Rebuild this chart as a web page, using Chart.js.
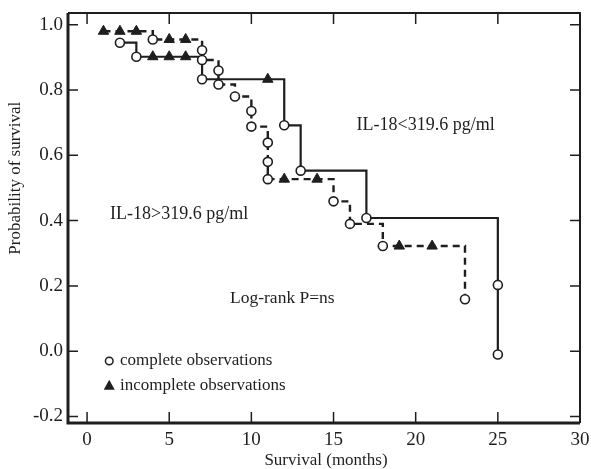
<!DOCTYPE html>
<html>
<head>
<meta charset="utf-8">
<script src="https://cdn.jsdelivr.net/npm/chart.js@4/dist/chart.umd.min.js"></script>
<style>
  html, body { margin: 0; padding: 0; background: #fff; }
  #wrap { width: 591px; height: 469px; }
</style>
</head>
<body>
<div id="wrap"><canvas id="kmChart" width="591" height="469"></canvas></div>
<script>
// Axis ticks
const xTicks = [0, 5, 10, 15, 20, 25, 30];
const yTicks = [-0.2, 0, 0.2, 0.4, 0.6, 0.8, 1.0];

// IL-18 > 319.6 pg/ml (dashed curve)
const highStepX = [1, 4, 7, 7, 8, 8, 9, 10, 10, 11, 11, 11, 15, 16, 18, 23];
const highStepY = [0.98, 0.955, 0.922, 0.892, 0.86, 0.817, 0.78, 0.736, 0.688, 0.639, 0.58, 0.527, 0.459, 0.39, 0.322, 0.159];
const highCensX = [1, 2, 3, 5, 6, 12, 14, 19, 21];
const highCensY = [0.98, 0.98, 0.98, 0.955, 0.955, 0.527, 0.527, 0.322, 0.322];

// IL-18 < 319.6 pg/ml (solid curve)
const lowStepX = [2, 3, 7, 12, 13, 17, 25, 25];
const lowStepY = [0.945, 0.902, 0.833, 0.692, 0.553, 0.408, 0.203, -0.01];
const lowCensX = [4, 5, 6, 11];
const lowCensY = [0.902, 0.902, 0.902, 0.833];

const toPts = (xs, ys) => xs.map((v, i) => ({ x: v, y: ys[i] }));
const INK = '#1e1e1e';
const SERIF = '"Liberation Serif", "DejaVu Serif", serif';

// frame, inward ticks, titles and text labels
const frame = {
    id: 'frame',
    afterDraw(chart) {
        const { ctx, chartArea: a, scales: { x, y } } = chart;
        ctx.save();
        ctx.strokeStyle = INK;
        ctx.lineWidth = 3;
        ctx.beginPath();
        ctx.moveTo(a.left, a.top);
        ctx.lineTo(a.left, a.bottom);
        ctx.lineTo(a.right, a.bottom);
        ctx.stroke();
        ctx.lineWidth = 2;
        ctx.beginPath();
        ctx.moveTo(a.left, a.top);
        ctx.lineTo(a.right, a.top);
        ctx.lineTo(a.right, a.bottom);
        ctx.stroke();

        ctx.lineWidth = 1.5;
        ctx.beginPath();
        xTicks.forEach(v => {
            const px = x.getPixelForValue(v);
            ctx.moveTo(px, a.bottom); ctx.lineTo(px, a.bottom - 11);
            ctx.moveTo(px, a.top); ctx.lineTo(px, a.top + 11);
        });
        yTicks.forEach(v => {
            const py = y.getPixelForValue(v);
            ctx.moveTo(a.left, py); ctx.lineTo(a.left + 10, py);
            ctx.moveTo(a.right, py); ctx.lineTo(a.right - 10, py);
        });
        ctx.stroke();

        ctx.fillStyle = INK;
        ctx.textBaseline = 'middle';

        // axis titles
        ctx.font = '17px ' + SERIF;
        ctx.textAlign = 'center';
        ctx.fillText('Survival (months)', (a.left + a.right) / 2 + 2, 461);
        ctx.save();
        ctx.translate(16, y.getPixelForValue(0.53));
        ctx.rotate(-Math.PI / 2);
        ctx.fillText('Probability of survival', 0, 0);
        ctx.restore();

        ctx.textAlign = 'left';
        ctx.font = '18px ' + SERIF;
        ctx.fillText('IL-18<319.6 pg/ml', x.getPixelForValue(16.4), y.getPixelForValue(0.691));
        ctx.fillText('IL-18>319.6 pg/ml', x.getPixelForValue(1.4), y.getPixelForValue(0.42));
        ctx.font = '17.5px ' + SERIF;
        ctx.fillText('Log-rank P=ns', x.getPixelForValue(8.7), y.getPixelForValue(0.162));

        // legend
        ctx.font = '17px ' + SERIF;
        const lx = x.getPixelForValue(1.35);
        const ly1 = y.getPixelForValue(-0.03);
        const ly2 = y.getPixelForValue(-0.104);
        ctx.lineWidth = 1.5;
        ctx.beginPath();
        ctx.arc(lx, ly1, 3.8, 0, Math.PI * 2);
        ctx.stroke();
        ctx.beginPath();
        ctx.moveTo(lx - 5.5, ly2 + 4.5);
        ctx.lineTo(lx + 5.5, ly2 + 4.5);
        ctx.lineTo(lx, ly2 - 5.5);
        ctx.closePath();
        ctx.fill();
        ctx.fillText('complete observations', x.getPixelForValue(2.0), ly1);
        ctx.fillText('incomplete observations', x.getPixelForValue(2.0), ly2);
        ctx.restore();
    }
};

const ctx = document.getElementById('kmChart');

new Chart(ctx, {
    type: 'scatter',
    data: {
        datasets: [
            {
                label: 'IL-18<319.6 events',
                data: toPts(lowStepX, lowStepY),
                pointStyle: 'circle',
                pointRadius: 4.5,
                pointBackgroundColor: '#fff',
                pointBorderColor: INK,
                pointBorderWidth: 1.6,
                order: 0
            },
            {
                label: 'IL-18>319.6 events',
                data: toPts(highStepX.slice(1), highStepY.slice(1)),
                pointStyle: 'circle',
                pointRadius: 4.5,
                pointBackgroundColor: '#fff',
                pointBorderColor: INK,
                pointBorderWidth: 1.6,
                order: 0
            },
            {
                label: 'IL-18<319.6 censored',
                data: toPts(lowCensX, lowCensY),
                pointStyle: 'triangle',
                pointRadius: 6,
                pointBackgroundColor: INK,
                pointBorderColor: INK,
                pointBorderWidth: 1,
                order: 0
            },
            {
                label: 'IL-18>319.6 censored',
                data: toPts(highCensX, highCensY),
                pointStyle: 'triangle',
                pointRadius: 6,
                pointBackgroundColor: INK,
                pointBorderColor: INK,
                pointBorderWidth: 1,
                order: 0
            },
            {
                type: 'line',
                label: 'IL-18<319.6 pg/ml',
                data: toPts(lowStepX, lowStepY),
                stepped: true,
                borderColor: INK,
                borderWidth: 2.2,
                pointRadius: 0,
                fill: false,
                order: 1
            },
            {
                type: 'line',
                label: 'IL-18>319.6 pg/ml',
                data: toPts(highStepX, highStepY),
                stepped: true,
                borderColor: INK,
                borderWidth: 2.4,
                borderDash: [7, 5],
                pointRadius: 0,
                fill: false,
                order: 1
            }
        ]
    },
    options: {
        responsive: false,
        animation: false,
        layout: { padding: { top: 13, right: 11, left: 0, bottom: 0 } },
        plugins: {
            legend: { display: false },
            tooltip: { enabled: false }
        },
        scales: {
            x: {
                type: 'linear',
                min: -1.16,
                max: 30,
                afterBuildTicks: s => { s.ticks = xTicks.map(v => ({ value: v })); },
                afterFit: s => { s.height = 46; s.paddingRight = 0; s.paddingLeft = 0; },
                grid: { display: false, drawTicks: false },
                border: { display: false },
                ticks: {
                    color: INK,
                    padding: 6,
                    maxRotation: 0,
                    font: { family: SERIF, size: 19 }
                }
            },
            y: {
                type: 'linear',
                min: -0.22,
                max: 1.036,
                afterBuildTicks: s => { s.ticks = yTicks.map(v => ({ value: v })); },
                afterFit: s => { s.width = 68; s.paddingTop = 0; s.paddingBottom = 0; },
                grid: { display: false, drawTicks: false },
                border: { display: false },
                ticks: {
                    color: INK,
                    padding: 5,
                    font: { family: SERIF, size: 19 },
                    callback: v => v.toFixed(1)
                }
            }
        }
    },
    plugins: [frame]
});
</script>
</body>
</html>
